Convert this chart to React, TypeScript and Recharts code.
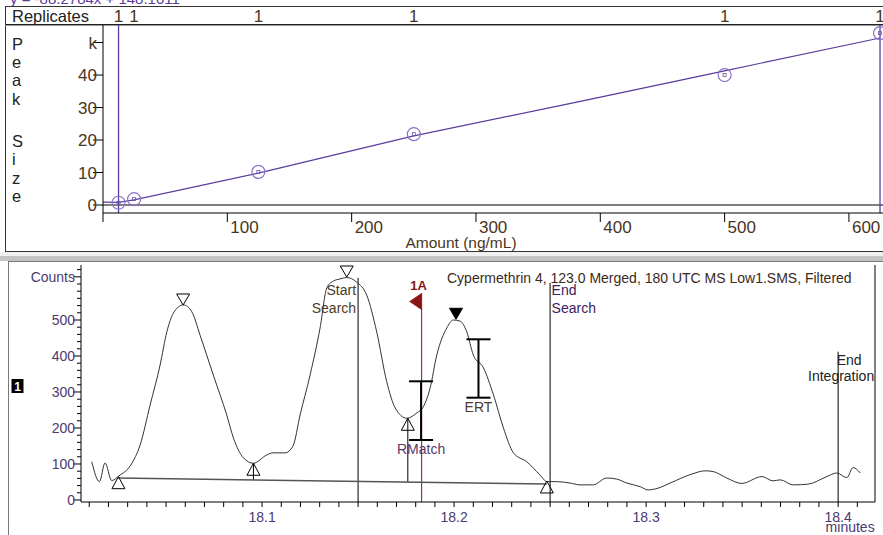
import React from 'react';
import {
  ComposedChart, Line, Scatter, XAxis, YAxis, ReferenceLine, ErrorBar,
} from 'recharts';

const FONT = '"Liberation Sans", Arial, Helvetica, sans-serif';
const PURPLE = '#5b3c9e';
const BROWN = '#4a3520';
const TICK_PURPLE = '#4b3a70';

// ---- calibration curve (top panel)
const calAmount = [12.5, 25, 125, 250, 500, 625];
const calPeakSize = [0.7, 1.8, 10.2, 21.8, 40, 52.9];
const calReplicates = ['1', '1', '1', '1', '1', '1'];
const fitAmount = [0, 12.5, 25, 125, 250, 383, 500, 625];
const fitPeakSize = [0.9, 0.8, 1.6, 9.8, 21.3, 31.8, 41.3, 51.4];
const rangeLimits = [12.5, 625];
const amountTicks = [0, 100, 200, 300, 400, 500, 600];
const amountTickLabels = ['', '100', '200', '300', '400', '500', '600'];
const sizeTicks = [0, 10, 20, 30, 40, 50];
const sizeTickLabels = ['0', '10', '20', '30', '40', 'k'];

// ---- chromatogram (bottom panel)
const chromTime = [
  18.0113, 18.0153, 18.0182, 18.0217, 18.0255, 18.0316, 18.0365, 18.0417, 18.0469, 18.0504,
  18.0538, 18.059, 18.0634, 18.0677, 18.0746, 18.0816, 18.0851, 18.0903, 18.0955, 18.1024,
  18.1057, 18.112, 18.1161, 18.1198, 18.125, 18.1302, 18.1337, 18.137, 18.1406, 18.1441,
  18.1493, 18.1545, 18.1597, 18.1649, 18.1693, 18.1754, 18.1806, 18.184, 18.1875, 18.191,
  18.1962, 18.1996, 18.2031, 18.2066, 18.21, 18.2153, 18.2205, 18.2257, 18.2309, 18.2379,
  18.2448, 18.2483, 18.2535, 18.2604, 18.2656, 18.2724, 18.2795, 18.2847, 18.29, 18.2969,
  18.301, 18.3063, 18.3125, 18.3238, 18.3307, 18.3349, 18.342, 18.3498, 18.3603, 18.3661,
  18.3698, 18.3766, 18.3844, 18.3941, 18.3993, 18.4045, 18.4078, 18.4115,
];
const chromCounts = [
  106, 51, 103, 54, 67, 97, 153, 264, 375, 467,
  519, 542, 523, 458, 347, 236, 172, 117, 102, 125,
  131, 131, 150, 236, 347, 478, 589, 608, 614, 618,
  605, 569, 467, 329, 256, 227, 242, 259, 311, 403,
  478, 500, 497, 467, 403, 367, 292, 200, 131, 106,
  69, 51, 51, 47, 42, 42, 61, 58, 47, 37,
  28, 33, 47, 72, 81, 79, 61, 46, 65, 53,
  56, 42, 44, 65, 75, 62, 90, 75,
];
const baselineTime = [18.0252, 18.2483];
const baselineCounts = [61, 44.4];

const markerTime = [18.0252, 18.0955, 18.0589, 18.1441, 18.1759, 18.201, 18.2483];
const markerCounts = [64.7, 102, 541.7, 619.4, 227, 502, 52.8];
const markerKind = ['start', 'start', 'top', 'top', 'start', 'apex', 'start'];

const dropTime = [18.0955, 18.1759];
const dropTop = [102, 227];
const dropBottom = [55.7, 49.8];

const eventTime = [18.15, 18.25, 18.4];
const eventTop = [617, 603, 412];
const eventLabel = [['Start', 'Search'], ['End', 'Search'], ['End', 'Integration']];

const windowName = ['RMatch', 'ERT'];
const windowTime = [18.1828, 18.2127];
const windowLow = [166.7, 284.2];
const windowHigh = [329.7, 446.4];

const peakFlagName = '1A';
const peakFlagTime = 18.1831;
const peakFlagTop = 575;

const countTicks = Array.from({ length: 33 }, (_, i) => i * 20);
const timeTicks = Array.from({ length: 41 }, (_, i) => Math.round((18.01 + i * 0.01) * 100) / 100);

const calPoints = calAmount.map((amt, i) => ({ amt, size: calPeakSize[i] }));
const fitPoints = fitAmount.map((amt, i) => ({ amt, size: fitPeakSize[i] }));
const chromPoints = chromTime.map((t, i) => ({ t, c: chromCounts[i] }));
const baselinePoints = baselineTime.map((t, i) => ({ t, c: baselineCounts[i] }));
const markerPoints = markerTime.map((t, i) => ({ t, c: markerCounts[i], kind: markerKind[i] }));
const eventPoints = eventTime.map((t, i) => ({ t, c: eventTop[i], idx: i }));
const windowPoints = windowTime.map((t, i) => {
  const mid = (windowLow[i] + windowHigh[i]) / 2;
  return { t, c: mid, err: [mid - windowLow[i], windowHigh[i] - mid] };
});
const windowLabelPoints = windowTime.map((t, i) => ({ t, c: windowLow[i], name: windowName[i] }));

// ---------- top panel ticks / shapes
const RepTick = ({ x, y, index }: any) => (
  <text x={x} y={y - 3.5} textAnchor="middle" fontSize={17} fill={BROWN} fontFamily={FONT}>
    {calReplicates[index]}
  </text>
);

const AmountTick = ({ x, y, payload }: any) => {
  const i = amountTicks.indexOf(payload.value);
  return (
    <g>
      <line x1={x} y1={y} x2={x} y2={y + 9} stroke="#000" />
      <text x={x + 3} y={y + 20} fontSize={17} fill={BROWN} fontFamily={FONT}>{amountTickLabels[i]}</text>
    </g>
  );
};

const SizeTick = ({ x, y, payload }: any) => {
  const i = sizeTicks.indexOf(payload.value);
  return (
    <g>
      <line x1={x - 10} y1={y} x2={x} y2={y} stroke="#000" />
      <text x={x - 6} y={y + 6} textAnchor="end" fontSize={17} fill={BROWN} fontFamily={FONT}>{sizeTickLabels[i]}</text>
    </g>
  );
};

const CalMarker = (p: any) => (
  <g>
    <circle cx={p.cx} cy={p.cy} r={6.5} fill="none" stroke="#8a72c8" strokeWidth={1.2} />
    <rect x={p.cx - 1.5} y={p.cy - 1.5} width={3} height={3} fill="none" stroke="#6a50b0" strokeWidth={0.8} />
  </g>
);

// ---------- bottom panel ticks / shapes
const isMajorTime = (v: number) => Math.abs(v * 10 - Math.round(v * 10)) < 1e-6;

const TimeTick = ({ x, y, payload }: any) => {
  const v = payload.value;
  return (
    <g>
      <line x1={x} y1={y} x2={x} y2={y + 5} stroke="#000" />
      {isMajorTime(v) && (
        <text x={x} y={y + 20} textAnchor="middle" fontSize={14} fill={TICK_PURPLE} fontFamily={FONT}>{v.toFixed(1)}</text>
      )}
      {Math.abs(v - 18.4) < 1e-6 && (
        <text x={x + 12} y={y + 30} textAnchor="middle" fontSize={14} fill={TICK_PURPLE} fontFamily={FONT}>minutes</text>
      )}
    </g>
  );
};

const CountTick = ({ x, y, payload }: any) => {
  const v = payload.value;
  const major = v % 100 === 0 && v <= 500;
  const label = major ? String(v) : v === 620 ? 'Counts' : '';
  return (
    <g>
      <line x1={x - (major || v === 620 ? 8 : 4)} y1={y} x2={x} y2={y} stroke="#000" />
      {label && (
        <text x={x - 6} y={y + 5} textAnchor="end" fontSize={14} fill={TICK_PURPLE} fontFamily={FONT}>{label}</text>
      )}
    </g>
  );
};

const RightTick = ({ x, y, payload }: any) => {
  const major = payload.value % 100 === 0;
  return <line x1={x - (major ? 6 : 4)} y1={y} x2={x} y2={y} stroke="#000" />;
};

const PeakMarker = (p: any) => {
  const { cx, cy, payload } = p;
  if (payload.kind === 'start') {
    return <polygon points={`${cx},${cy} ${cx - 6.5},${cy + 12} ${cx + 6.5},${cy + 12}`} fill="none" stroke="#000" />;
  }
  return (
    <polygon
      points={`${cx},${cy} ${cx - 6.5},${cy - 11} ${cx + 6.5},${cy - 11}`}
      fill={payload.kind === 'apex' ? '#000' : 'none'}
      stroke="#000"
    />
  );
};

const eventStyle = [
  { color: '#4e3a26', rows: [{ dx: -2, dy: 17, anchor: 'end' }, { dx: -2, dy: 35, anchor: 'end' }] },
  { color: '#3d2160', rows: [{ dx: 1.5, dy: 12, anchor: 'start' }, { dx: 1.5, dy: 30, anchor: 'start' }] },
  { color: '#222', rows: [{ dx: -1.5, dy: 13.5, anchor: 'start' }, { dx: 3, dy: 29.5, anchor: 'middle' }] },
];

const EventLabel = (p: any) => {
  const { cx, cy, payload } = p;
  const st = eventStyle[payload.idx];
  return (
    <g>
      {eventLabel[payload.idx].map((s, k) => (
        <text key={k} x={cx + st.rows[k].dx} y={cy + st.rows[k].dy} textAnchor={st.rows[k].anchor as any}
          fontSize={14} fill={st.color} fontFamily={FONT}>{s}</text>
      ))}
    </g>
  );
};

const WindowLabel = (p: any) => (
  <text x={p.cx} y={p.cy + 14} textAnchor="middle" fontSize={14} fill={p.payload.name === 'ERT' ? '#4e3a26' : '#5a3a6a'} fontFamily={FONT}>
    {p.payload.name}
  </text>
);

const FlagMarker = (p: any) => {
  const { cx, cy } = p;
  return (
    <g>
      <polygon points={`${cx},${cy} ${cx},${cy + 17} ${cx - 12.5},${cy + 8.5}`} fill="#8b1515" />
      <text x={cx - 3} y={cy - 3} textAnchor="middle" fontSize={13} fontWeight="bold" fill="#8b1515" fontFamily={FONT}>
        {peakFlagName}
      </text>
    </g>
  );
};

const Nothing = () => <g />;

const pekLetters = ['P', 'e', 'a', 'k', 'S', 'i', 'z', 'e'];
const pekY = [50, 68, 86, 105, 147, 165, 184, 202];

export default function App() {
  return (
    <div style={{ position: 'absolute', left: 0, top: 0, width: 883, height: 535, background: '#fff', overflow: 'hidden', fontFamily: FONT }}>
      {/* frame / static text */}
      <svg width={883} height={535} style={{ position: 'absolute', left: 0, top: 0 }}>
        <text x={10} y={4} fontSize={15} fill={PURPLE} fontFamily={FONT}>y = -88.2784x + 148.1011</text>
        <line x1={5} y1={6.5} x2={883} y2={6.5} stroke="#333" />
        <line x1={5.5} y1={6.5} x2={5.5} y2={252} stroke="#333" />
        <line x1={5} y1={24.5} x2={883} y2={24.5} stroke="#222" />
        <line x1={5} y1={25.5} x2={883} y2={25.5} stroke="#999" />
        <text x={12} y={21.5} fontSize={16.5} fill="#222" fontFamily={FONT}>Replicates</text>
        {pekLetters.map((l, i) => (
          <text key={i} x={12} y={pekY[i]} fontSize={16.5} fill="#222" fontFamily={FONT}>{l}</text>
        ))}
        <text x={461} y={248} textAnchor="middle" fontSize={15.5} fill={BROWN} fontFamily={FONT}>Amount (ng/mL)</text>
        <line x1={5} y1={251.5} x2={883} y2={251.5} stroke="#333" />
        <rect x={0} y={252} width={883} height={4} fill="#f0f0f0" />
        <rect x={0} y={256} width={883} height={5} fill="#c4c4c4" />
        <line x1={8} y1={261.5} x2={883} y2={261.5} stroke="#777" />
        <line x1={8.5} y1={261.5} x2={8.5} y2={535} stroke="#777" />
        <text x={447} y={283} fontSize={14} fill="#3b2a1a" fontFamily={FONT}>
          Cypermethrin 4, 123.0 Merged, 180 UTC MS Low1.SMS, Filtered
        </text>
        <rect x={11.5} y={379} width={12} height={14} fill="#000" />
        <text x={17.5} y={390.5} textAnchor="middle" fontSize={12} fontWeight="bold" fill="#fff" fontFamily={FONT}>1</text>
      </svg>

      {/* calibration curve */}
      <div style={{ position: 'absolute', left: 0, top: 0 }}>
        <ComposedChart width={883} height={252} margin={{ top: 0, right: 0, bottom: 0, left: 0 }}>
          <XAxis xAxisId="rep" orientation="top" type="number" dataKey="amt" domain={[0, 627.4]} ticks={calAmount}
            height={25} axisLine={false} tickLine={false} tickSize={0} tickMargin={0} tick={<RepTick />} interval={0} />
          <XAxis type="number" dataKey="amt" domain={[0, 627.4]} ticks={amountTicks} height={39}
            axisLine={{ stroke: '#000' }} tickLine={false} tickSize={0} tickMargin={0} tick={<AmountTick />} interval={0} />
          <YAxis type="number" domain={[-2.46, 55.4]} ticks={sizeTicks} width={103}
            axisLine={{ stroke: '#000' }} tickLine={false} tickSize={0} tickMargin={0} tick={<SizeTick />} interval={0} />
          <ReferenceLine y={0} stroke="#000" />
          {rangeLimits.map((a) => (
            <ReferenceLine key={a} x={a} stroke={PURPLE} strokeWidth={1.3} />
          ))}
          <Line data={fitPoints} dataKey="size" type="linear" stroke={PURPLE} strokeWidth={1.2} dot={false} isAnimationActive={false} />
          <Scatter xAxisId="rep" data={calPoints} dataKey="size" shape={CalMarker} isAnimationActive={false} />
        </ComposedChart>
      </div>

      {/* chromatogram */}
      <div style={{ position: 'absolute', left: 0, top: 262 }}>
        <ComposedChart width={883} height={273} margin={{ top: 3, right: 7, bottom: 0, left: 0 }}>
          <XAxis type="number" dataKey="t" domain={[18.0057, 18.4192]} ticks={timeTicks} height={33}
            axisLine={{ stroke: '#000' }} tickLine={false} tickSize={0} tickMargin={0} tick={<TimeTick />} interval={0} />
          <YAxis type="number" domain={[-5.6, 652.8]} ticks={countTicks} width={81}
            axisLine={{ stroke: '#000' }} tickLine={false} tickSize={0} tickMargin={0} tick={<CountTick />} interval={0} />
          <YAxis yAxisId="r" orientation="right" type="number" domain={[-5.6, 652.8]} ticks={countTicks} width={1}
            axisLine={{ stroke: '#000' }} tickLine={false} tickSize={0} tickMargin={0} tick={<RightTick />} interval={0} />

          {eventTime.map((t, i) => (
            <ReferenceLine key={`ev${i}`} segment={[{ x: t, y: -5.6 }, { x: t, y: eventTop[i] }]} stroke="#000" />
          ))}
          {dropTime.map((t, i) => (
            <ReferenceLine key={`dr${i}`} segment={[{ x: t, y: dropBottom[i] }, { x: t, y: dropTop[i] }]} stroke="#000" />
          ))}
          <ReferenceLine segment={[{ x: peakFlagTime, y: -5.6 }, { x: peakFlagTime, y: peakFlagTop }]} stroke="#8b1515" />

          <Line data={baselinePoints} dataKey="c" type="linear" stroke="#555" strokeWidth={1.5} dot={false} isAnimationActive={false} />
          <Line data={chromPoints} dataKey="c" type="monotone" stroke="#333" strokeWidth={1} dot={false} isAnimationActive={false} />

          <Scatter data={markerPoints} dataKey="c" shape={PeakMarker} isAnimationActive={false} />
          <Scatter data={windowPoints} dataKey="c" shape={Nothing} isAnimationActive={false}>
            <ErrorBar dataKey="err" direction="y" width={12} strokeWidth={2} stroke="#000" isAnimationActive={false} />
          </Scatter>
          <Scatter data={windowLabelPoints} dataKey="c" shape={WindowLabel} isAnimationActive={false} />
          <Scatter data={eventPoints} dataKey="c" shape={EventLabel} isAnimationActive={false} />
          <Scatter data={[{ t: peakFlagTime, c: peakFlagTop }]} dataKey="c" shape={FlagMarker} isAnimationActive={false} />
        </ComposedChart>
      </div>
    </div>
  );
}
